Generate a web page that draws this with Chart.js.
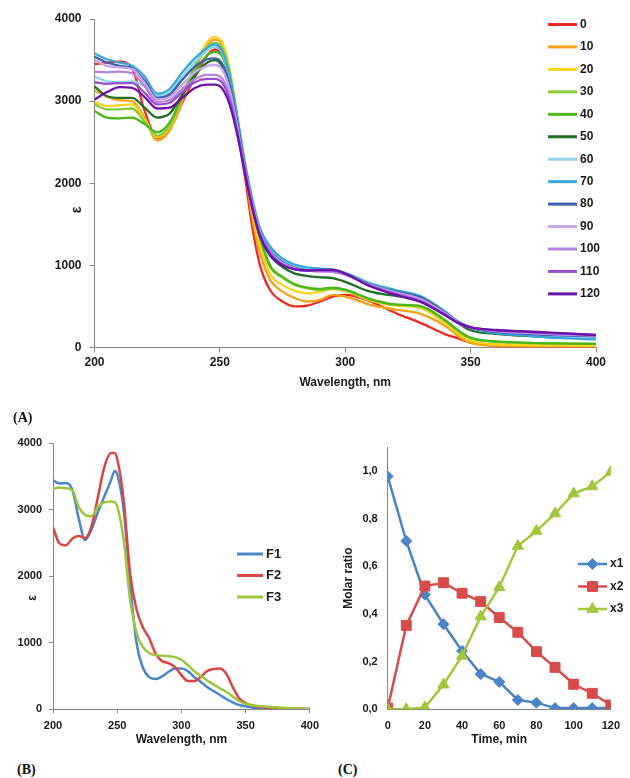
<!DOCTYPE html>
<html lang="en">
<head>
<meta charset="UTF-8">
<title>UV spectra and molar ratios</title>
<script src="https://cdn.jsdelivr.net/npm/chart.js"></script>
<style>
    body {
        margin: 0;
        background: #fff;
        font-family: "Liberation Sans", Arial, sans-serif;
    }
    #page {
        position: relative;
        width: 630px;
        height: 778px;
    }
    canvas {
        position: absolute;
    }
    .tag {
        position: absolute;
        font: bold 14px "Liberation Serif", "Times New Roman", serif;
        color: #111;
    }
</style>
</head>
<body>
<div id="page">
    <canvas id="chartA" width="630" height="400" style="left:0;top:0"></canvas>
    <canvas id="chartB" width="325" height="340" style="left:0;top:420px"></canvas>
    <canvas id="chartC" width="310" height="340" style="left:320px;top:420px"></canvas>
    <div class="tag" style="left:13px;top:410px">(A)</div>
    <div class="tag" style="left:17px;top:762px">(B)</div>
    <div class="tag" style="left:338px;top:762px">(C)</div>
</div>
<script>
// ---- (A) spectra over time ----
const wavelengthA = [200, 205, 210, 215, 220, 225, 230, 235, 240, 245, 248, 251, 254, 257, 260, 263, 266, 270,
    275, 280, 285, 290, 295, 300, 310, 320, 330, 340, 345, 350, 360, 370, 380, 390, 400];
const minutesA = ['0', '10', '20', '30', '40', '50', '60', '70', '80', '90', '100', '110', '120'];

const spec0 = [3450, 3470, 3480, 3400, 2880, 2550, 2660, 2980, 3290, 3560, 3630, 3560, 3250, 2680, 2080, 1450, 1000, 700,
    560, 500, 510, 560, 620, 640, 560, 420, 300, 160, 110, 60, 20, 10, 5, 5, 5];
const spec10 = [3130, 3055, 3010, 3000, 2800, 2520, 2640, 3000, 3380, 3680, 3750, 3680, 3350, 2780, 2180, 1550, 1150, 830,
    680, 600, 560, 580, 640, 620, 520, 460, 410, 260, 140, 55, 20, 12, 10, 10, 10];
const spec20 = [2990, 2940, 2950, 2960, 2780, 2560, 2680, 3050, 3430, 3720, 3780, 3710, 3380, 2800, 2220, 1650, 1250, 900,
    760, 690, 660, 680, 710, 690, 570, 510, 480, 290, 170, 80, 40, 30, 25, 22, 20];
const spec30 = [2960, 2900, 2900, 2910, 2750, 2580, 2700, 3060, 3420, 3660, 3710, 3640, 3330, 2780, 2200, 1700, 1330, 980,
    850, 760, 720, 700, 715, 700, 585, 520, 500, 320, 200, 110, 70, 58, 50, 46, 43];
const spec40 = [2880, 2800, 2790, 2800, 2720, 2620, 2740, 3060, 3350, 3560, 3600, 3540, 3260, 2750, 2200, 1720, 1350, 1000,
    860, 770, 730, 715, 730, 705, 590, 525, 505, 330, 210, 120, 75, 60, 52, 48, 45];
const spec50 = [3180, 3060, 3040, 3040, 2920, 2800, 2850, 3080, 3310, 3470, 3500, 3420, 3150, 2700, 2180, 1700, 1350, 1120,
    980, 900, 870, 855, 845, 800, 680, 630, 590, 420, 300, 210, 165, 145, 130, 120, 110];
const spec60 = [3300, 3240, 3230, 3240, 3180, 3060, 3110, 3300, 3470, 3620, 3660, 3580, 3270, 2780, 2230, 1780, 1420, 1200,
    1060, 990, 960, 950, 940, 900, 770, 690, 620, 440, 320, 250, 185, 160, 140, 128, 118];
const spec70 = [3580, 3510, 3470, 3430, 3300, 3090, 3150, 3350, 3520, 3650, 3690, 3600, 3300, 2800, 2250, 1800, 1450, 1230,
    1080, 1010, 975, 960, 950, 910, 780, 700, 625, 430, 310, 240, 175, 150, 125, 110, 95];
const spec80 = [3540, 3470, 3430, 3400, 3250, 3040, 3080, 3260, 3420, 3510, 3520, 3450, 3180, 2720, 2200, 1750, 1400, 1180,
    1040, 970, 940, 930, 925, 890, 760, 680, 610, 420, 310, 245, 190, 170, 155, 145, 135];
const spec90 = [3500, 3430, 3410, 3390, 3220, 3020, 3050, 3200, 3350, 3430, 3440, 3380, 3130, 2680, 2180, 1740, 1400, 1170,
    1030, 960, 935, 925, 920, 885, 760, 670, 590, 410, 305, 245, 200, 180, 165, 155, 145];
const spec100 = [3360, 3350, 3360, 3340, 3180, 2990, 3010, 3150, 3270, 3320, 3320, 3270, 3050, 2640, 2160, 1720, 1390, 1160,
    1020, 955, 935, 930, 925, 890, 755, 660, 575, 400, 300, 245, 205, 188, 172, 160, 148];
const spec110 = [3230, 3210, 3220, 3220, 3100, 2960, 2980, 3110, 3230, 3270, 3270, 3220, 3010, 2620, 2150, 1710, 1380, 1150,
    1010, 950, 935, 935, 935, 895, 750, 650, 565, 395, 300, 245, 210, 193, 178, 165, 150];
const spec120 = [3020, 3110, 3170, 3160, 3050, 2910, 2920, 3040, 3160, 3200, 3200, 3150, 2950, 2580, 2120, 1690, 1360, 1130,
    1000, 950, 940, 945, 945, 900, 745, 640, 555, 390, 300, 245, 213, 198, 185, 170, 152];
const seriesA = [spec0, spec10, spec20, spec30, spec40, spec50, spec60, spec70, spec80, spec90, spec100, spec110, spec120];
const colorsA = ['#ec2a22', '#f7a01b', '#f8d31a', '#86cc3a', '#4cb61a', '#1f6e24', '#90d4eb', '#3aa7dc',
    '#3b60ad', '#cba6ec', '#b583de', '#9a4ed0', '#6c12ab'];

// ---- (B) fractions ----
const wavelengthB = [200, 205, 210, 215, 220, 225, 230, 235, 240, 245, 248, 250, 255, 260, 265, 270, 275, 280, 285,
    290, 295, 300, 305, 310, 315, 320, 325, 330, 335, 340, 345, 350, 360, 370, 380, 390, 400];
const fracF1 = [3440, 3390, 3400, 3300, 2870, 2540, 2700, 2960, 3200, 3430, 3580, 3530, 3000, 1900, 1000, 620, 480, 450, 490,
    560, 610, 610, 570, 480, 410, 330, 270, 210, 150, 100, 60, 40, 10, 5, 0, 0, 0];
const fracF2 = [2730, 2490, 2460, 2560, 2600, 2570, 2750, 3190, 3640, 3850, 3850, 3760, 3150, 2050, 1500, 1230, 1060, 830, 720,
    690, 630, 510, 420, 420, 480, 570, 600, 610, 530, 330, 160, 90, 35, 20, 10, 5, 0];
const fracF3 = [3310, 3330, 3320, 3290, 3040, 2920, 2900, 3040, 3110, 3120, 3110, 3050, 2550, 1650, 1150, 930, 840, 810, 800,
    795, 780, 740, 660, 570, 500, 430, 370, 310, 260, 190, 120, 80, 45, 30, 15, 5, 0];

// ---- (C) molar ratio vs time ----
const timeC = [0, 10, 20, 30, 40, 50, 60, 70, 80, 90, 100, 110, 120];
const ratioX1 = [0.977, 0.706, 0.481, 0.357, 0.245, 0.148, 0.115, 0.039, 0.028, 0.005, 0.005, 0.005, 0.005];
const ratioX2 = [0.005, 0.352, 0.517, 0.531, 0.487, 0.452, 0.385, 0.323, 0.242, 0.176, 0.105, 0.067, 0.018];
const ratioX3 = [0.0, 0.0, 0.008, 0.103, 0.224, 0.389, 0.512, 0.685, 0.748, 0.821, 0.905, 0.935, 0.996];
const ratioTicks = [0, 0.2, 0.4, 0.6, 0.8, 1.0];

// --------------------------------------------------------------
function xy(xs, ys) {
    return xs.map((x, i) => ({ x: x, y: ys[i] }));
}
const plain = v => String(v);

const axisGray = '#868686';
const sans = '"Liberation Sans", Arial, sans-serif';
const bold12 = { family: sans, size: 12, weight: 'bold' };
const bold11 = { family: sans, size: 11, weight: 'bold' };
Chart.defaults.color = '#1a1a1a';

// legend drawn inside the plot, like the original
const insideLegend = {
    id: 'insideLegend',
    afterDraw(chart, args, o) {
        const ctx = chart.ctx;
        ctx.save();
        ctx.font = o.font;
        ctx.textBaseline = 'middle';
        chart.data.datasets.forEach((ds, i) => {
            const y = o.y + i * o.dy;
            ctx.strokeStyle = ds.borderColor;
            ctx.lineWidth = o.lineWidth;
            ctx.beginPath();
            ctx.moveTo(o.x, y);
            ctx.lineTo(o.x + o.len, y);
            ctx.stroke();
            if (ds.pointStyle && ds.pointRadius && Chart.helpers && Chart.helpers.drawPoint) {
                ctx.fillStyle = ds.backgroundColor;
                ctx.strokeStyle = ds.backgroundColor;
                ctx.lineWidth = 1;
                Chart.helpers.drawPoint(ctx, { pointStyle: ds.pointStyle, radius: ds.pointRadius, rotation: 0, borderWidth: 1 },
                    o.x + o.len / 2, y);
            }
            ctx.fillStyle = '#1a1a1a';
            ctx.fillText(ds.label, o.x + o.len + o.gap, y);
        });
        ctx.restore();
    }
};

// rotated axis symbol placed where the original has it
const sideTitle = {
    id: 'sideTitle',
    afterDraw(chart, args, o) {
        const ctx = chart.ctx;
        ctx.save();
        ctx.translate(o.x, o.y);
        ctx.rotate(-Math.PI / 2);
        ctx.font = o.font;
        ctx.fillStyle = '#1a1a1a';
        ctx.textAlign = 'center';
        ctx.textBaseline = 'middle';
        ctx.fillText(o.text, 0, 0);
        ctx.restore();
    }
};

// ---- chart A ----
new Chart(document.getElementById('chartA'), {
    type: 'line',
    data: {
        datasets: seriesA.map((s, i) => ({
            label: minutesA[i],
            data: xy(wavelengthA, s),
            borderColor: colorsA[i],
            backgroundColor: colorsA[i],
            borderWidth: 2.3,
            pointRadius: 0,
            cubicInterpolationMode: 'monotone',
            order: seriesA.length - i
        }))
    },
    options: {
        responsive: false,
        animation: false,
        layout: { padding: { left: 0, top: 19, right: 34, bottom: 0 } },
        plugins: {
            legend: { display: false },
            tooltip: { enabled: false },
            insideLegend: { x: 548, y: 24.5, dy: 22.45, len: 29, gap: 3, lineWidth: 3, font: 'bold 12px ' + sans },
            sideTitle: { x: 77, y: 210, text: 'ε', font: 'bold 14px ' + sans }
        },
        scales: {
            x: {
                type: 'linear', min: 200, max: 400,
                ticks: { stepSize: 50, padding: 3, font: bold12, maxRotation: 0, callback: plain },
                grid: { display: true, drawOnChartArea: false, drawTicks: true, tickLength: 5, color: axisGray },
                border: { color: axisGray },
                title: { display: true, text: 'Wavelength, nm', font: bold12, padding: { top: 0, bottom: 10 } },
                afterFit(s) { s.height = 52.5; }
            },
            y: {
                min: 0, max: 4000,
                ticks: { stepSize: 1000, padding: 8, font: bold12, callback: plain },
                grid: { display: true, drawOnChartArea: false, drawTicks: true, tickLength: 5, color: axisGray },
                border: { color: axisGray },
                afterFit(s) { s.width = 94.5; }
            }
        }
    },
    plugins: [insideLegend, sideTitle]
});

// ---- chart B ----
const fracNames = ['F1', 'F2', 'F3'];
const fracColors = ['#4a86c8', '#d9463f', '#9dc63c'];
const fracSeries = [fracF1, fracF2, fracF3];
new Chart(document.getElementById('chartB'), {
    type: 'line',
    data: {
        datasets: fracSeries.map((s, i) => ({
            label: fracNames[i],
            data: xy(wavelengthB, s),
            borderColor: fracColors[i],
            backgroundColor: fracColors[i],
            borderWidth: 2.5,
            pointRadius: 0,
            cubicInterpolationMode: 'monotone',
            order: fracSeries.length - i
        }))
    },
    options: {
        responsive: false,
        animation: false,
        layout: { padding: { left: 0, top: 23, right: 13, bottom: 0 } },
        plugins: {
            legend: { display: false },
            tooltip: { enabled: false },
            insideLegend: { x: 237, y: 134, dy: 21.5, len: 26, gap: 3, lineWidth: 3, font: 'bold 13px ' + sans },
            sideTitle: { x: 33, y: 178, text: 'ε', font: 'bold 12px ' + sans }
        },
        scales: {
            x: {
                type: 'linear', min: 200, max: 400,
                ticks: { stepSize: 50, padding: 6, font: bold11, maxRotation: 0, callback: plain },
                grid: { display: true, drawOnChartArea: false, drawTicks: true, tickLength: 4, color: axisGray },
                border: { color: axisGray },
                title: { display: true, text: 'Wavelength, nm', font: bold12, padding: { top: 0, bottom: 13 } },
                afterFit(s) { s.height = 51; }
            },
            y: {
                min: 0, max: 4000,
                ticks: { stepSize: 1000, padding: 7, font: bold11, callback: plain },
                grid: { display: true, drawOnChartArea: false, drawTicks: true, tickLength: 4, color: axisGray },
                border: { color: axisGray },
                afterFit(s) { s.width = 53; }
            }
        }
    },
    plugins: [insideLegend, sideTitle]
});

// ---- chart C ----
const ratioNames = ['x1', 'x2', 'x3'];
const ratioColors = ['#4a84c6', '#d84b4b', '#a2c63c'];
const ratioMarkers = ['rectRot', 'rect', 'triangle'];
const ratioSizes = [5.5, 7, 6.5];
const ratioSeries = [ratioX1, ratioX2, ratioX3];
new Chart(document.getElementById('chartC'), {
    type: 'line',
    data: {
        datasets: ratioSeries.map((s, i) => ({
            label: ratioNames[i],
            data: xy(timeC, s),
            borderColor: ratioColors[i],
            backgroundColor: ratioColors[i],
            borderWidth: 2.5,
            pointStyle: ratioMarkers[i],
            pointRadius: ratioSizes[i],
            pointBorderWidth: 1,
            pointBackgroundColor: ratioColors[i],
            tension: 0,
            order: ratioSeries.length - i
        }))
    },
    options: {
        responsive: false,
        animation: false,
        layout: { padding: { left: 0, top: 27.1, right: 10, bottom: 0 } },
        plugins: {
            legend: { display: false },
            tooltip: { enabled: false },
            insideLegend: { x: 258, y: 144, dy: 22.5, len: 29, gap: 3, lineWidth: 2.5, font: 'bold 12px ' + sans }
        },
        scales: {
            x: {
                type: 'linear', min: 0, max: 120,
                ticks: { stepSize: 20, padding: 10, font: bold11, maxRotation: 0, callback: plain },
                grid: { display: false, drawTicks: false },
                border: { display: true, color: axisGray },
                title: { display: true, text: 'Time, min', font: bold12, padding: { top: 0, bottom: 13 } },
                afterFit(s) { s.height = 50.7; }
            },
            y: {
                min: 0, max: 1.1,
                afterBuildTicks(s) { s.ticks = ratioTicks.map(v => ({ value: v })); },
                ticks: { padding: 10, font: bold11, callback: v => v.toFixed(1).replace('.', ',') },
                grid: { display: false, drawTicks: false },
                border: { display: true, color: axisGray },
                title: { display: true, text: 'Molar ratio', font: bold12, padding: { top: 21, bottom: 0 } },
                afterFit(s) { s.width = 67.7; }
            }
        }
    },
    plugins: [insideLegend]
});
</script>
</body>
</html>
